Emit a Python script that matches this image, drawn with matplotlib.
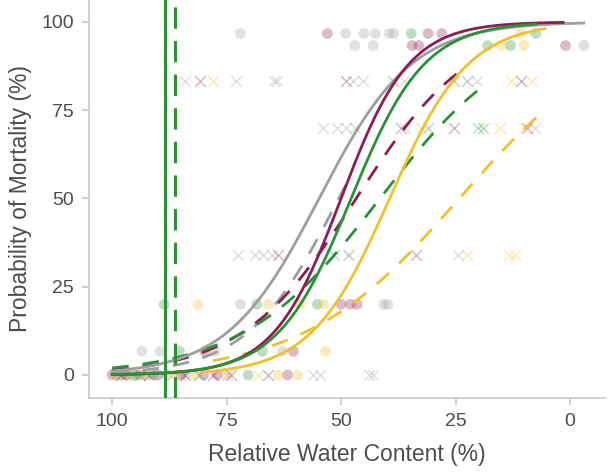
import numpy as np
import matplotlib.pyplot as plt

plt.rcParams['font.family'] = ['Liberation Sans', 'DejaVu Sans']

GREY = '#9e9e9e'
WINE = '#8c1d52'
GREEN = '#2a9138'
GOLD = '#f0c02e'

# observed proportions (circles), by colour group: (RWC, mortality %)
grey_o_x = [72, 49, 45, 42.5, 39.5, 38.5, 47, 43, -3, 93.5, 89.5, 77.5, 62.8, 40.7, 39.8, 72,
            99, 96, 92, 88, 84]
grey_o_y = [96.7, 96.7, 96.7, 96.7, 96.7, 96.7, 93.3, 93.3, 93.3, 6.7, 6.7, 6.7, 6.7, 20, 20, 20,
            0, 0, 0, 0, 0]
wine_o_x = [53, 31, 28, 34.5, 33, 1, 50, 48, 46.5, 79.8, 60.4, 61.7,
            100, 97, 94, 90, 85, 80, 77]
wine_o_y = [96.7, 96.7, 96.7, 93.3, 93.3, 93.3, 20, 20, 20, 6.7, 6.7, 0,
            0, 0, 0, 0, 0, 0, 0]
green_o_x = [34.7, 7.5, 13, 18, 88.6, 68.4, 55.2, 85.3, 67.2, 70.3, 98, 95, 91]
green_o_y = [96.7, 96.7, 93.3, 93.3, 20, 20, 20, 6.7, 6.7, 0, 0, 0, 0]
gold_o_x = [10.8, 15, 10, 81.3, 65.9, 58.9, 53.8, 53.4, 63.7, 59.5, 99, 93, 86, 82, 75]
gold_o_y = [96.7, 93.3, 93.3, 20, 20, 20, 20, 6.7, 0, 0, 0, 0, 0, 0, 0]

# observed proportions (crosses)
grey_x_x = [84, 73, 64.6, 64, 47.3, 45.3, 36.3, 20.4, 54, 51, 49, 47, 36, 7.7,
            72.5, 68.8, 67, 65, 48.6, 48.2, 24.4, 56.2, 54.5, 44, 43, 97, 89, 75]
grey_x_y = [83.3, 83.3, 83.3, 83.3, 83.3, 83.3, 83.3, 83.3, 70, 70, 70, 70, 70, 70,
            34, 34, 34, 34, 34, 34, 34, 0, 0, 0, 0, 0, 0, 0]
wine_x_x = [80.7, 49, 10.8, 37, 25.3, 9.5, 63.7, 33.6, 65.9, 98, 92, 84, 78, 74]
wine_x_y = [83.3, 83.3, 83.3, 70, 70, 70, 34, 34, 0, 0, 0, 0, 0, 0]
green_x_x = [38.7, 25.3, 22.6, 31, 20, 19, 51.6, 94, 81]
green_x_y = [83.3, 83.3, 83.3, 70, 70, 70, 34, 0, 0]
gold_x_x = [78, 13, 8.4, 32.5, 15.4, 10, 22.5, 13.4, 12.1, 68.1, 96, 87]
gold_x_y = [83.3, 83.3, 83.3, 70, 70, 70, 34, 34, 34, 0, 0, 0]

# fitted logistic curves: (midpoint RWC, scale, RWC from, RWC to)
fit_solid = {
    GREY: (54.8, 10.1, 100, -3),
    WINE: (50.0, 7.4, 100, 1.5),
    GREEN: (47.8, 8.0, 100, 7.5),
    GOLD: (39.4, 8.6, 80, 5.5),
}
fit_dashed = {
    GREY: (50.5, 10.0, 100, 48),
    WINE: (46.7, 12.5, 100, 24),
    GREEN: (41.5, 15.0, 100, 20),
    GOLD: (24.2, 17.0, 78, 6),
}

# thresholds (solid / dashed)
thr_solid = 88.4
thr_dashed = 86.2


def logistic(x, mid, scale):
    return 100 / (1 + np.exp((x - mid) / scale))


fig = plt.figure(figsize=(6.11, 4.72), dpi=100)
ax = fig.add_axes([0.146, 0.157, 0.844, 0.843])

pts = [(grey_o_x, grey_o_y, GREY, 'o'), (wine_o_x, wine_o_y, WINE, 'o'),
       (green_o_x, green_o_y, GREEN, 'o'), (gold_o_x, gold_o_y, GOLD, 'o'),
       (grey_x_x, grey_x_y, GREY, 'x'), (wine_x_x, wine_x_y, WINE, 'x'),
       (green_x_x, green_x_y, GREEN, 'x'), (gold_x_x, gold_x_y, GOLD, 'x')]
for xs, ys, c, m in pts:
    if m == 'o':
        ax.scatter(xs, ys, s=60, color=c, alpha=0.3, edgecolors='none', zorder=2)
    else:
        ax.scatter(xs, ys, s=60, color=c, alpha=0.35, marker='x', linewidths=1.0, zorder=2)

for c, (mid, sc, x0, x1) in fit_dashed.items():
    xx = np.linspace(x0, x1, 200)
    ax.plot(xx, logistic(xx, mid, sc), color=c, lw=2.0, ls=(0, (6, 5)), zorder=3)
for c, (mid, sc, x0, x1) in fit_solid.items():
    xx = np.linspace(x0, x1, 200)
    ax.plot(xx, logistic(xx, mid, sc), color=c, lw=2.0, zorder=4)

ax.axvline(thr_solid, color=GREEN, lw=2.2, zorder=5)
ax.axvline(thr_dashed, color=GREEN, lw=2.2, ls=(0, (7, 4)), zorder=5)

ax.set_xlim(105, -7.6)
ax.set_ylim(-6.5, 106.2)
ax.set_xticks([100, 75, 50, 25, 0])
ax.set_yticks([0, 25, 50, 75, 100])

for side in ['top', 'right']:
    ax.spines[side].set_visible(False)
for side in ['left', 'bottom']:
    ax.spines[side].set_color('#c4c4c4')
    ax.spines[side].set_linewidth(1.1)
ax.tick_params(colors='#c4c4c4', labelcolor='#4d4d4d', labelsize=14, length=5, width=1.1, pad=6)

ax.set_xlabel('Relative Water Content (%)', fontsize=16.5, color='#4d4d4d', labelpad=9)
ax.set_ylabel('Probability of Mortality (%)', fontsize=16.5, color='#4d4d4d', labelpad=7)

fig.savefig('out.png', dpi=100)
